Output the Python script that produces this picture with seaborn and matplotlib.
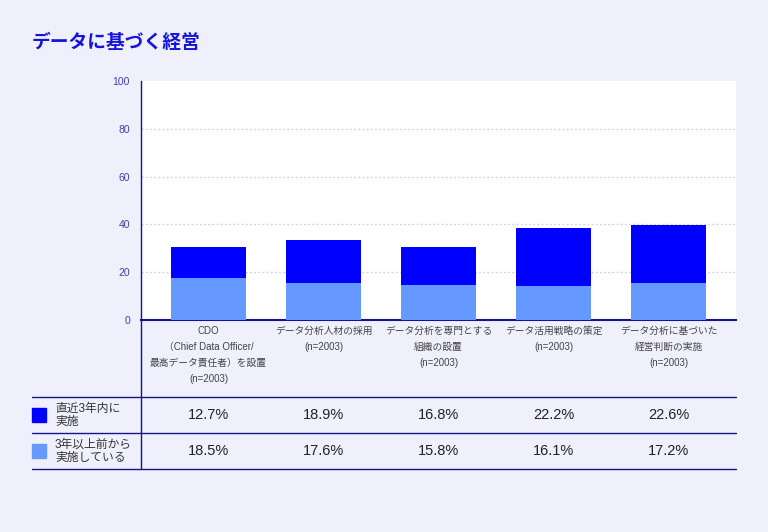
import matplotlib
matplotlib.use("Agg")
import matplotlib.pyplot as plt
from matplotlib.lines import Line2D
import seaborn as sns
import pandas as pd

# categories (bar labels under the x axis)
categories = [
    "CDO\n（Chief Data Officer/\n最高データ責任者）を設置\n(n=2003)",
    "データ分析人材の採用\n(n=2003)",
    "データ分析を専門とする\n組織の設置\n(n=2003)",
    "データ活用戦略の策定\n(n=2003)",
    "データ分析に基づいた\n経営判断の実施\n(n=2003)",
]
series_names = ["直近3年内に\n実施", "3年以上前から\n実施している"]

# bar heights as drawn in the chart
bar_older = [17.6, 15.6, 14.6, 14.2, 15.6]
bar_recent = [12.9, 17.9, 15.9, 24.3, 24.1]

# values printed in the table below the chart
table_recent = ["12.7%", "18.9%", "16.8%", "22.2%", "22.6%"]
table_older = ["18.5%", "17.6%", "15.8%", "16.1%", "17.2%"]

yticks = [0, 20, 40, 60, 80, 100]

BG = "#F0F0FD"
DARK = "#0000FF"
LIGHT = "#6699FF"
NAVY = "#14148C"
TICK = "#4040B0"

sns.set_theme(style="white")
plt.rcParams["font.family"] = ["Liberation Sans", "Noto Sans CJK JP", "DejaVu Sans"]

W, H = 768, 532
fig = plt.figure(figsize=(W / 100, H / 100), dpi=100, facecolor=BG)


def fx(px):
    return px / W


def fy(py):
    return 1 - py / H


ax = fig.add_axes([fx(141), fy(320), fx(736) - fx(141), fy(81) - fy(320)])
ax.set_facecolor("white")

df = pd.DataFrame({
    "cat": [str(i) for i in range(len(categories))],
    "older": bar_older,
    "total": [a + b for a, b in zip(bar_older, bar_recent)],
})

sns.barplot(data=df, x="cat", y="total", color=DARK, saturation=1,
            width=0.652, linewidth=0, ax=ax, zorder=3)
sns.barplot(data=df, x="cat", y="older", color=LIGHT, saturation=1,
            width=0.652, linewidth=0, ax=ax, zorder=3)

ax.set_xlim(-0.587, len(categories) - 1 + 0.587)
ax.set_ylim(0, 100)
ax.set_yticks(yticks)
ax.set_yticklabels([str(t) for t in yticks], color=TICK, fontsize=7.5)
ax.tick_params(axis="y", length=0, pad=8)
ax.set_xticks([])
ax.set_xlabel("")
ax.set_ylabel("")

for t in yticks[1:-1]:
    ax.axhline(t, color="#D2D2F2", lw=1, ls=(0, (1.5, 1.5)), zorder=1)

for side in ["top", "right"]:
    ax.spines[side].set_visible(False)
ax.spines["left"].set_color(NAVY)
ax.spines["left"].set_linewidth(1)
ax.spines["bottom"].set_color(NAVY)
ax.spines["bottom"].set_linewidth(1.5)

xt = ax.get_xaxis_transform()
for i, lab in enumerate(categories):
    ax.text(i, (320 - 326) / 239, lab, transform=xt, ha="center", va="top",
            fontsize=7, color="#444444", linespacing=1.75, clip_on=False)
    ax.text(i, (320 - 415) / 239, table_recent[i], transform=xt, ha="center",
            va="center", fontsize=10.5, color="#222222", clip_on=False)
    ax.text(i, (320 - 451) / 239, table_older[i], transform=xt, ha="center",
            va="center", fontsize=10.5, color="#222222", clip_on=False)

# table lines
for py in [397, 433, 469]:
    fig.add_artist(Line2D([fx(32), fx(736)], [fy(py), fy(py)], color=NAVY, lw=1))
fig.add_artist(Line2D([fx(141), fx(141)], [fy(320), fy(469)], color=NAVY, lw=1))

# legend column
for name, col, py in [(series_names[0], DARK, 415), (series_names[1], LIGHT, 451)]:
    fig.add_artist(plt.Rectangle((fx(32), fy(py + 7)), fx(14), fy(py - 7) - fy(py + 7),
                                 color=col, transform=fig.transFigure))
    fig.text(fx(55), fy(py), name, ha="left", va="center", fontsize=8.5,
             color="#333333", linespacing=1.1)

fig.text(fx(32), fy(43), "データに基づく経営", ha="left", va="center",
         fontsize=13.5, fontweight="bold", color="#1414DC")

fig.savefig("out.png", dpi=100, facecolor=BG)
